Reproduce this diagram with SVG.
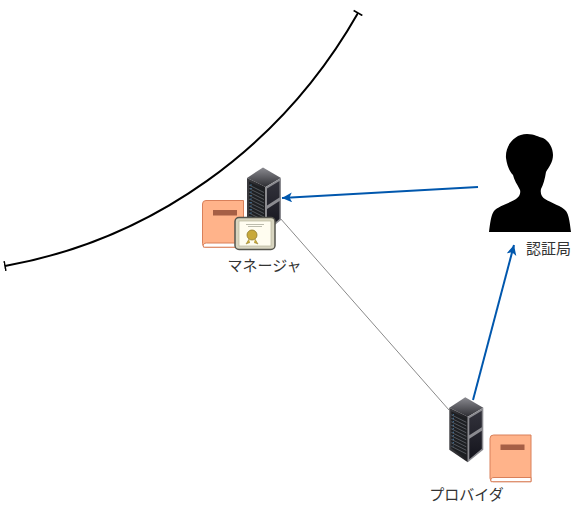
<svg xmlns="http://www.w3.org/2000/svg" width="582" height="508" viewBox="0 0 582 508">
<style>
text{font-family:"Noto Sans CJK JP","Noto Sans",sans-serif;font-size:15px;fill:#333;text-anchor:middle}
.arrow{fill:none;stroke:#0057ad;stroke-width:2;marker-end:url(#ah)}
</style>
<defs>
<marker id="ah" markerUnits="userSpaceOnUse" markerWidth="12" markerHeight="12" refX="10" refY="5" orient="auto"><path d="M0 0L10 5L0 10L2.500 5Z" fill="#0057ad"/></marker>
<marker id="tick" markerUnits="userSpaceOnUse" markerWidth="4" markerHeight="12" refX="1" refY="6" orient="auto"><path d="M1 1V11" stroke="#000" stroke-width="1.500" fill="none"/></marker>
<linearGradient id="top" x1="0" y1="0" x2="0" y2="1"><stop offset="0" stop-color="#8a8a90"/><stop offset="1" stop-color="#2e2e33"/></linearGradient>
<linearGradient id="front" x1="0" y1="0" x2="1" y2="0"><stop offset="0" stop-color="#3c3c40"/><stop offset="1" stop-color="#1c1c20"/></linearGradient>
<linearGradient id="side" x1="0" y1="0" x2="0" y2="1"><stop offset="0" stop-color="#33333c"/><stop offset="1" stop-color="#14141c"/></linearGradient>
<g id="server">
<path d="M16 0L34 10.400L18.500 19.500L0 10.400Z" fill="url(#top)"/>
<path d="M0 10.400L18.500 19.500V65L0 52.500Z" fill="url(#front)"/>
<path d="M18.500 19.500L34 10.400V52.500L18.500 65Z" fill="#8b8b90"/>
<path d="M20 21L32.500 13.500V30L20 38ZM20 41.500L32.500 33.500V51.500L20 62Z" fill="url(#side)"/>
<path d="M2 14L17 21.500V61.500L2 51Z" fill="#1d1f22"/>
<path d="M2 17.500L17 25M2 21L17 28.500M2 24.500L17 32M2 28L17 35.500M2 31.500L17 39M2 35L17 42.500M2 38.500L17 46M2 42L17 49.500M2 45.500L17 53M2 49L17 56.500" stroke="#62666c" stroke-width="0.800" fill="none"/>
<path d="M4 17L4 49" stroke="#4d88b8" stroke-width="1.200" stroke-dasharray="1 2.500" fill="none"/>
</g>
<g id="book">
<path d="M3.500 0H41V46.700H3.500A3.500 3.500 0 0 1 0 43.200V3.500A3.500 3.500 0 0 1 3.500 0Z" fill="#ffb38a" stroke="#d9805a" stroke-width="1"/>
<path d="M1 46.700Q0 42.500 4 42.500H41V46.700Z" fill="#fff" stroke="#d9805a" stroke-width="1"/>
<rect x="10.500" y="9.500" width="24" height="5.500" fill="#a65f45"/>
</g>
</defs>
<g id="connectors">
<path d="M5 266C150 240 280 150 358 13" fill="none" stroke="#000" stroke-width="2" marker-start="url(#tick)" marker-end="url(#tick)"/>
<path d="M280 218L449 410" fill="none" stroke="#8a8a8a" stroke-width="1"/>
<path class="arrow" d="M478 187L282 198"/>
<path class="arrow" d="M473 400L514 245"/>
</g>
<g id="manager">
<use href="#server" x="247" y="167.500"/>
<use href="#book" x="202.500" y="200.500"/>
<g id="cert">
<rect x="235" y="217.500" width="40" height="32" rx="4" fill="#d8d5c0" stroke="#55554d" stroke-width="1.500"/>
<rect x="239" y="221" width="32" height="25" fill="#fffdf0" stroke="#b8b59a" stroke-width="0.700"/>
<path d="M246 224.500H264M248 226.500H262" stroke="#a0a090" stroke-width="0.700"/>
<circle cx="252" cy="235" r="5" fill="#c8a93a" stroke="#8f7a2a" stroke-width="0.800"/>
<path d="M249 239L246 244L250 242.500M255 239L258 244L254 242.500" fill="#c8a93a" stroke="#8f7a2a" stroke-width="0.500"/>
</g>
<text x="264.500" y="271">マネージャ</text>
</g>
<g id="ca">
<path d="M489 232C490 224 491 215 494 211C498 206 510 203 516 199C519 197 521 194 520 190C517 184 514 180 513 175C510 172 507 166 506 158C505 146 514 134 527 134C535 134 538 137 543 138C549 141 553 148 553 155C553 162 549 167 546 172C545 179 543 185 541 189C540 194 542 197 545 199C551 203 562 206 566 211C569 215 570 224 571 232Z" fill="#000"/>
<text x="548.500" y="254">認証局</text>
</g>
<g id="provider">
<use href="#server" x="449.300" y="397.300"/>
<use href="#book" x="490" y="435"/>
<text x="466.500" y="500">プロバイダ</text>
</g>
</svg>
